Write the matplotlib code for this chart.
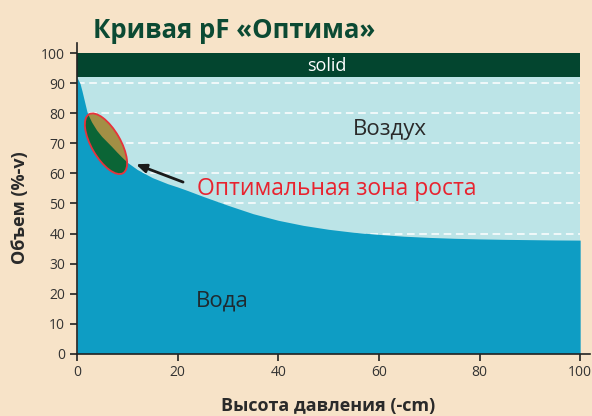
import matplotlib
matplotlib.use('Agg')
from matplotlib import pyplot as plt
from matplotlib.patches import Ellipse
from matplotlib.transforms import ScaledTranslation

# curve
pressure = [0, 0.6, 1, 2, 3, 4, 5, 6, 7, 8, 9, 10, 12, 15, 18, 20, 22, 25, 28, 30, 35, 40, 45,
            50, 55, 60, 65, 70, 75, 80, 85, 90, 95, 100]
water = [92, 90, 87.5, 80.5, 77, 74.3, 72.2, 70.5, 68.8, 67, 65.3, 63.7, 61.3, 58.6, 56.6, 55.5,
         54.3, 52.4, 50.6, 49.4, 46.6, 44.4, 42.7, 41.4, 40.4, 39.7, 39.1, 38.7, 38.4, 38.2, 38.05,
         37.95, 37.85, 37.8]
solid_bottom = 92
solid_top = 100
grid_levels = [10, 20, 30, 40, 50, 60, 70, 80, 90]
x_ticks = [0, 20, 40, 60, 80, 100]
y_ticks = [0, 10, 20, 30, 40, 50, 60, 70, 80, 90, 100]

bg = '#f7e3c8'
plt.rcParams['font.family'] = ['Open Sans', 'DejaVu Sans']

fig = plt.figure(figsize=(5.92, 4.16), dpi=100, facecolor=bg)
ax = fig.add_axes([0.130, 0.150, 0.867, 0.747])
ax.set_facecolor(bg)

ax.fill_between([0, 100], 0, solid_bottom, color='#bce4e7', lw=0, zorder=1)
ax.fill_between([0, 100], solid_bottom, solid_top, color='#03452f', lw=0, zorder=3)
ax.hlines(grid_levels, 0, 100, colors='white', linestyles=(0, (5, 3)), lw=1.1, zorder=2)
water_poly = ax.fill_between(pressure, 0, water, color='#0e9dc4', lw=0, zorder=3)

ax.set_xlim(0, 102)
ax.set_ylim(0, 103.5)
ax.set_xticks(x_ticks)
ax.set_yticks(y_ticks)
for s in ['top', 'right']:
    ax.spines[s].set_visible(False)
for s in ['left', 'bottom']:
    ax.spines[s].set_color('#222222')
    ax.spines[s].set_linewidth(1.2)
    ax.spines[s].set_zorder(6)
ax.tick_params(colors='#222222', labelcolor='#333333', labelsize=10, length=5, width=1.2)

# optimal zone ellipse, drawn in screen units so it keeps its tilt
loc = ScaledTranslation(5.77, 69.9, ax.transData)
tr = fig.dpi_scale_trans + loc
ew, eh, ang = 0.68, 0.29, -60
e1 = Ellipse((0, 0), ew, eh, angle=ang, transform=tr, facecolor='#a38f45', lw=0, zorder=4)
ax.add_patch(e1)
e2 = Ellipse((0, 0), ew, eh, angle=ang, transform=tr, facecolor='#0b6536', lw=0, zorder=4.1)
ax.add_patch(e2)
e2.set_clip_path(water_poly.get_paths()[0], ax.transData)
e3 = Ellipse((0, 0), ew, eh, angle=ang, transform=tr, facecolor='none',
             edgecolor='#e8323c', lw=1.3, zorder=4.2)
ax.add_patch(e3)

ax.annotate('', xy=(11.2, 63.4), xytext=(21.6, 56.8),
            arrowprops=dict(arrowstyle='-|>,head_length=0.6,head_width=0.25', color='#1a1a1a', lw=2),
            zorder=5)

ax.text(49.7, 95.8, 'solid', color='white', fontsize=13, ha='center', va='center', zorder=5)
ax.text(62.2, 74.8, 'Воздух', color='#2a2a2a', fontsize=16, ha='center', va='center', zorder=5)
ax.text(28.8, 17.5, 'Вода', color='#1f2a30', fontsize=16, ha='center', va='center', zorder=5)
ax.text(23.9, 54.8, 'Оптимальная зона роста', color='#e8232f', fontsize=16.5,
        ha='left', va='center', zorder=5)

fig.text(93 / 592, 1 - 30 / 416, 'Кривая pF «Оптима»', color='#0b4a33', fontsize=18.5,
         fontweight='bold', ha='left', va='center')
fig.text(328 / 592, 1 - 406 / 416, 'Высота давления (-cm)', color='#2a2a2a', fontsize=13,
         fontweight='bold', ha='center', va='center')
fig.text(20 / 592, 1 - 208 / 416, 'Объем (%-v)', color='#2a2a2a', fontsize=13,
         fontweight='bold', ha='center', va='center', rotation=90)

fig.savefig('out.png', dpi=100, facecolor=bg)
